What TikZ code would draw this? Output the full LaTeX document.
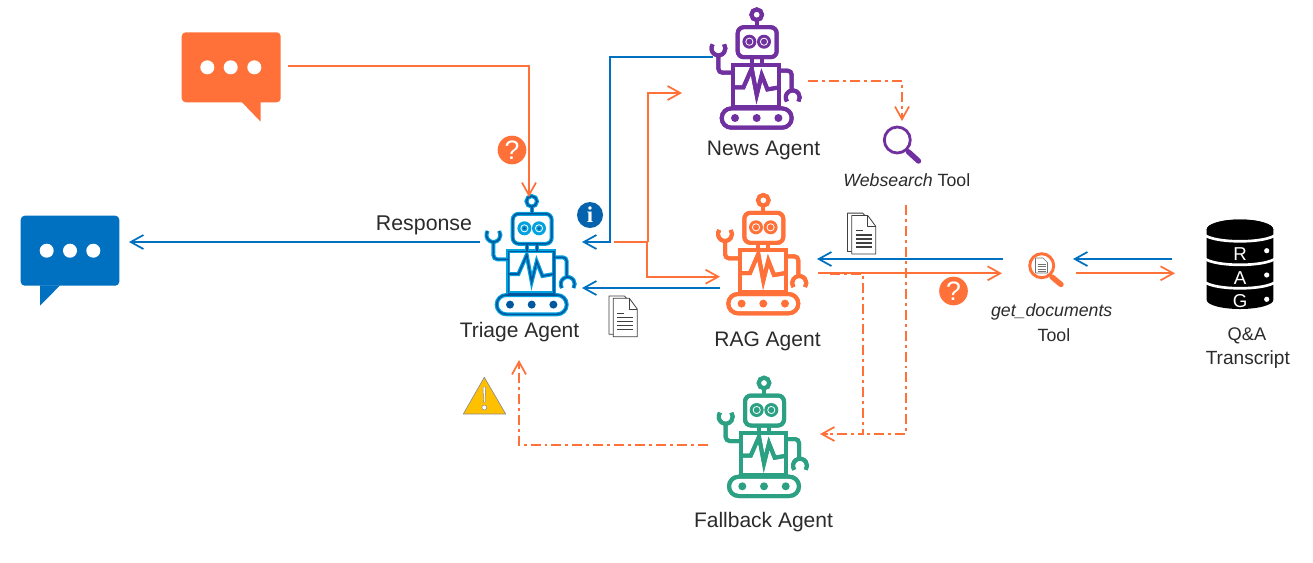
\documentclass[tikz,border=0pt]{standalone}
\usepackage{fontspec}
\setmainfont{Liberation Sans}
\newfontfamily\serifface{Liberation Serif}
\usetikzlibrary{arrows.meta}
\definecolor{cOrange}{HTML}{FF7139}
\definecolor{cBlue}{HTML}{0070C0}
\definecolor{cBlueDark}{HTML}{00579E}
\definecolor{cCyan}{HTML}{00A2E0}
\definecolor{cInfo}{HTML}{0563AD}
\definecolor{cPurple}{HTML}{7030A0}
\definecolor{cGreen}{HTML}{2CA082}
\definecolor{cText}{HTML}{2B2B2B}
\definecolor{cYellow}{HTML}{FFC000}
\newcommand{\robotlines}[1]{%
  \draw[#1,rounded corners=4.5pt] (-19,-14.5) rectangle (20,15.5);
  \draw[#1] (0,-27) circle[radius=5.3];
  \draw[#1] (0,-21.5) -- (0,-14.5);
  \draw[#1] (-5,15.5) -- (-5,23) (5,15.5) -- (5,23);
  \draw[#1] (-23.3,23) rectangle (22.3,65);
  \draw[#1,line join=miter] (-23.3,45.7) -- (-13.3,45.7) -- (-5,26.7) -- (0,53.3) -- (5,33.3) -- (10.7,47.7) -- (22.3,45.7);
  \draw[#1,rounded corners=3pt] (-23.3,31) -- (-38.3,31) -- (-38.3,13.7);
  \draw[#1] (-38.3,6.7) ++(-5.73,-4.02) arc[start angle=215,end angle=-35,radius=7];
  \draw[#1,rounded corners=3pt] (22.3,29) -- (35,29) -- (35,48.7);
  \draw[#1] (36,55.7) ++(-5.73,4.02) arc[start angle=145,end angle=395,radius=7];
  \draw[#1,rounded corners=7.2pt] (-35,66.7) rectangle (35,86);
}
\tikzset{
  x=0.75pt,y=-0.75pt,
  flow/.style={line width=1.4pt,-{Straight Barb[length=9.5pt,width=10.5pt,line width=1.3pt]}},
  plain flow/.style={line width=1.4pt},
  dashdot/.style={line width=1.4pt,dash pattern=on 7.5pt off 3pt on 2.2pt off 3pt},
  caption/.style={inner sep=0pt,text=cText,font=\fontsize{15.75pt}{18pt}\selectfont},
  small caption/.style={inner sep=0pt,text=cText,font=\fontsize{13pt}{15pt}\selectfont},
  pics/robot/.style n args={3}{code={
    \robotlines{draw=#1,line width=3pt}
    \robotlines{draw=#2,line width=#3}
    \foreach \ex in {-7.3,7.3}{
      \fill[#1] (\ex,0) circle[radius=7];
      \draw[white,line width=0.6pt] (\ex,0) circle[radius=3.6];
      \fill[#2] (\ex,0) circle[radius=1.5];
    }
    \foreach \dx in {-21.7,0,21.7}{\fill[#2] (\dx,76.3) circle[radius=4];}
  }},
  doc/.pic={
    \draw[line width=0.6pt,draw=black!75,fill=white,line join=round] (-4.3,-2.4) -- (11,-2.4) -- (15,2) -- (15,36) -- (-4.3,36) -- cycle;
    \draw[line width=0.6pt,draw=black!75,fill=white,line join=round] (0,0) -- (16,0) -- (24,10.7) -- (24,38.4) -- (0,38.4) -- cycle;
    \draw[line width=0.6pt,draw=black!75,line join=round] (16,0) -- (16,10.7) -- (24,10.7);
    \draw[line width=0.8pt,draw=black!75] (4,15) -- (11,15) (4,19.5) -- (20,19.5) (4,23.5) -- (20,23.5) (4,27.5) -- (20,27.5) (4,31.5) -- (20,31.5);
  },
}
\begin{document}
\begin{tikzpicture}
\useasboundingbox (0,0) rectangle (1313,562);
\fill[white] (0,0) rectangle (1313,562);

% speech bubbles
\fill[cOrange,rounded corners=3] (181.7,32.3) rectangle (280.7,102.3);
\fill[cOrange] (241.7,102) -- (260.7,121.7) -- (260.7,102) -- cycle;
\foreach \px in {207.3,230.7,254.3}{\fill[white] (\px,67.3) circle[radius=7];}
\coordinate (userBubble) at (288,66);

\fill[cBlue,rounded corners=3] (20.7,215.7) rectangle (119.3,285.7);
\fill[cBlue] (40,285.4) -- (40,305.7) -- (60,285.4) -- cycle;
\foreach \px in {46.7,70,93.3}{\fill[white] (\px,250.7) circle[radius=7];}
\coordinate (replyBubble) at (129,242);

% robots
\pic (triage) at (531.7,228.3) {robot={cCyan}{cBlueDark}{1.2pt}};
\pic (news) at (756.7,41.7) {robot={cPurple}{cPurple}{3pt}};
\pic (rag) at (763.3,227.3) {robot={cOrange}{cOrange}{3pt}};
\pic (fallback) at (764,410) {robot={cGreen}{cGreen}{3pt}};

% labels
\node[caption] (triageLabel) at (519.5,332) {Triage Agent};
\node[caption] (newsLabel) at (763.5,150) {News Agent};
\node[caption] (ragLabel) at (767.5,341) {RAG Agent};
\node[caption] (fallbackLabel) at (763.5,522) {Fallback Agent};
\node[caption,font=\fontsize{16pt}{18pt}\selectfont] (responseLabel) at (424,225) {Response};
\node[small caption,font=\fontsize{13.3pt}{15pt}\selectfont] (webLabel) at (906.8,180) {\textit{Websearch} Tool};
\node[small caption,font=\fontsize{13.3pt}{15pt}\selectfont] (getLabel) at (1051.7,312) {\textit{get\_documents}};
\node[small caption,font=\fontsize{13.3pt}{15pt}\selectfont] (toolLabel) at (1054,335) {Tool};
\node[small caption,font=\fontsize{13.7pt}{15pt}\selectfont] (qaLabel) at (1247,336) {Q\&A};
\node[small caption,font=\fontsize{14.3pt}{15pt}\selectfont] (transcriptLabel) at (1247.8,359.5) {Transcript};

% magnifiers
\draw[cPurple,line width=2.1pt] (897.3,140) circle[radius=13];
\draw[cPurple,line width=4pt,line cap=round] (908.3,151.7) -- (918.5,161);
\draw[cOrange,line width=2.2pt] (1041.7,265.7) circle[radius=12];
\draw[cOrange,line width=4pt,line cap=round] (1052,277) -- (1061,284.5);
\draw[black!55,line width=0.4pt,fill=white,line join=round] (1035.5,258) -- (1043,258) -- (1047.5,262.5) -- (1047.5,273) -- (1035.5,273) -- cycle;
\draw[black!55,line width=0.5pt] (1037.5,264) -- (1045.5,264) (1037.5,266.5) -- (1045.5,266.5) (1037.5,269) -- (1045.5,269) (1037.5,271) -- (1045.5,271);

% database
\fill[black] (1206.7,229.5) arc[start angle=180,end angle=360,x radius=33.3,y radius=10] -- (1273.3,300) arc[start angle=0,end angle=180,x radius=33.3,y radius=9] -- cycle;
\fill[black] (1240,229.5) ellipse[x radius=33.3,y radius=10];
\foreach \sy in {232.5,256,279.5}{
  \draw[white,line width=2pt] (1203,\sy) arc[start angle=180,end angle=0,x radius=37,y radius=8.8];
}
\foreach \sy/\lab in {254/R,278/A,301/G}{
  \node[inner sep=0pt,text=white,font=\fontsize{14pt}{14pt}\selectfont] (db\lab) at (1240,\sy) {\lab};
}
\foreach \sy in {250.7,275,299.3}{\fill[white] (1266.7,\sy) circle[radius=2.6];}

% documents
\pic (docOne) at (613.3,298.3) {doc};
\pic (docTwo) at (851.7,215.5) {doc};

% badges
\node[circle,fill=cOrange,minimum size=21.5pt,inner sep=0pt,text=white,font=\fontsize{20pt}{20pt}\selectfont] (askOne) at (512,150) {?};
\node[circle,fill=cOrange,minimum size=21.5pt,inner sep=0pt,text=white,font=\fontsize{20pt}{20pt}\selectfont] (askTwo) at (953.5,291) {?};
\node[circle,fill=cInfo,minimum size=19.5pt,inner sep=0pt,text=white,font=\serifface\bfseries\fontsize{17pt}{17pt}\selectfont] (infoBadge) at (590,215) {i};
\draw[fill=cYellow,draw=black!45,line width=0.5pt,line join=round] (484.3,377.3) -- (505.7,414) -- (463.3,414) -- cycle;
\draw[fill=white,draw=black!50,line width=0.35pt] (483,387) -- (485.6,387) -- (485,402.5) -- (483.6,402.5) -- cycle;
\draw[fill=white,draw=black!50,line width=0.35pt] (484.3,407.5) circle[radius=2.5];

% ports
\coordinate (triageTop) at (529,197);
\coordinate (triageOutL) at (480,242);
\coordinate (triageInA) at (582,242);
\coordinate (triageOutR) at (614,242);
\coordinate (triageInB) at (582,288);
\coordinate (triageBottom) at (519,360);
\coordinate (newsOutL) at (713,57);
\coordinate (newsIn) at (682,93);
\coordinate (newsOutR) at (808,81);
\coordinate (ragIn) at (720,276.7);
\coordinate (ragOutL) at (720,288);
\coordinate (ragInR) at (817,259);
\coordinate (ragOutR) at (818,273.3);
\coordinate (ragDash) at (830,274);
\coordinate (getOutL) at (1003,259);
\coordinate (getIn) at (1002,273.3);
\coordinate (getInR) at (1073,259);
\coordinate (getOutR) at (1076,273.3);
\coordinate (dbOut) at (1172,259);
\coordinate (dbIn) at (1175,273.3);
\coordinate (webIn) at (902,121);
\coordinate (webOut) at (905.8,205);
\coordinate (fallIn) at (820,434);
\coordinate (fallOut) at (708,445);

% solid connectors
\draw[flow,cOrange] (userBubble) -| (triageTop);
\draw[flow,cBlue] (triageOutL) -- (replyBubble);
\draw[flow,cBlue] (newsOutL) -- (610,57) -- (610,242) -- (triageInA);
\draw[plain flow,cOrange] (triageOutR) -- (648,242);
\draw[flow,cOrange] (648,242) -- (648,93) -- (newsIn);
\draw[flow,cOrange] (646.7,242) -- (646.7,276.7) -- (ragIn);
\draw[flow,cBlue] (ragOutL) -- (triageInB);
\draw[flow,cBlue] (getOutL) -- (ragInR);
\draw[flow,cOrange] (ragOutR) -- (getIn);
\draw[flow,cBlue] (dbOut) -- (getInR);
\draw[flow,cOrange] (getOutR) -- (dbIn);

% dash-dot connectors
\draw[dashdot,cOrange] (newsOutR) -- (902,81) -- ([yshift=3pt]webIn);
\draw[plain flow,cOrange,-{Straight Barb[length=9.5pt,width=10.5pt,line width=1.3pt]}] ([yshift=6pt]webIn) -- (webIn);
\draw[dashdot,cOrange] (webOut) -- (905.8,434) -- (863.3,434);
\draw[dashdot,cOrange] (ragDash) -- (863.3,274) -- (863.3,434) -- ([xshift=5pt]fallIn);
\draw[plain flow,cOrange,-{Straight Barb[length=9.5pt,width=10.5pt,line width=1.3pt]}] ([xshift=6pt]fallIn) -- (fallIn);
\draw[dashdot,cOrange] (fallOut) -- (519,445) -- ([yshift=-5pt]triageBottom);
\draw[plain flow,cOrange,-{Straight Barb[length=9.5pt,width=10.5pt,line width=1.3pt]}] ([yshift=-6pt]triageBottom) -- (triageBottom);
\end{tikzpicture}
\end{document}
